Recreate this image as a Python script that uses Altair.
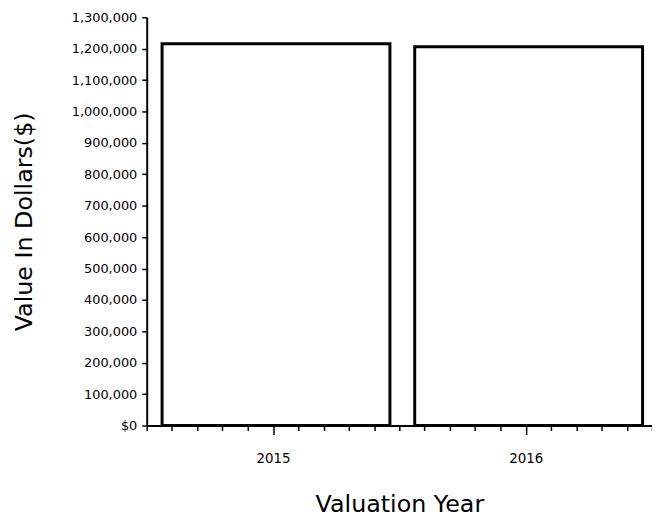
import altair as alt
import pandas as pd

years = [2015, 2016]
values = [1216000, 1206000]
y_ticks = [0, 100000, 200000, 300000, 400000, 500000, 600000, 700000,
           800000, 900000, 1000000, 1100000, 1200000, 1300000]
x_ticks = [2014.5, 2014.6, 2014.7, 2014.8, 2014.9, 2015.0, 2015.1, 2015.2,
           2015.3, 2015.4, 2015.5, 2015.6, 2015.7, 2015.8, 2015.9, 2016.0,
           2016.1, 2016.2, 2016.3, 2016.4, 2016.5]

df = pd.DataFrame({"year": years, "value": values})

FONT = "DejaVu Sans"

chart = alt.Chart(df).mark_bar(
    size=230, fill="white", stroke="black", strokeWidth=3, xOffset=3
).encode(
    x=alt.X(
        "year:Q",
        scale=alt.Scale(domain=[2014.5, 2016.5], nice=False, zero=False, padding=0),
        axis=alt.Axis(
            title="Valuation Year",
            values=x_ticks,
            labelExpr="datum.value % 1 === 0 ? datum.value : ''",
            labelOverlap=False,
            labelFlush=False,
            grid=False,
            domainColor="black",
            domainWidth=2,
            tickColor="black",
            tickSize={"condition": {"test": "datum.value % 1 === 0", "value": 9}, "value": 5},
            tickWidth=1.5,
            labelPadding=17,
            labelFont=FONT,
            labelFontSize=13.5,
            labelColor="black",
            titleFont=FONT,
            titleFontSize=24,
            titleFontWeight="normal",
            titleColor="black",
            titleBaseline="alphabetic",
            titleY=87,
        ),
    ),
    y=alt.Y(
        "value:Q",
        scale=alt.Scale(domain=[0, 1300000], nice=False, padding=0),
        axis=alt.Axis(
            title="Value In Dollars($)",
            values=y_ticks,
            labelExpr="datum.value === 0 ? '$0' : format(datum.value, ',')",
            grid=False,
            domainColor="black",
            domainWidth=2,
            tickColor="black",
            tickSize=5,
            tickWidth=1.5,
            labelPadding=5,
            labelFont=FONT,
            labelFontSize=13,
            labelColor="black",
            titleFont=FONT,
            titleFontSize=24,
            titleFontWeight="normal",
            titleColor="black",
            titleBaseline="alphabetic",
            titleX=-116,
            titleY=206,
        ),
    ),
).properties(
    width=510,
    height=412,
    background="white",
    autosize=alt.AutoSizeParams(type="none"),
    padding={"left": 140, "top": 7, "right": 0, "bottom": 94},
).configure_view(
    stroke="transparent", strokeWidth=0
)

chart.save("out.html", embed_options={"renderer": "svg", "actions": False})
